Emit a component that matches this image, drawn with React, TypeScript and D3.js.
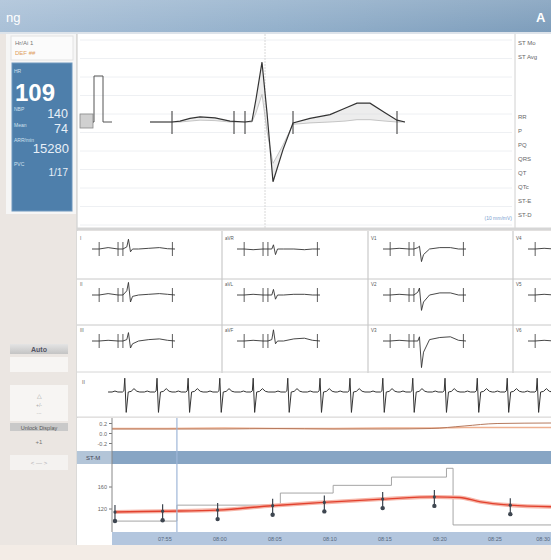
import React from 'react';
import * as d3 from 'd3';

// ---------- Average beat (main panel) ----------
const beatT = [-448, -360, -328, -288, -248, -188, -128, -68, -40, -24, 0, 20, 44, 84, 124, 192, 272, 332, 380, 432, 492, 540, 572];
const beatMv = [0, 0, 0.02, 0.08, 0.11, 0.09, 0.02, 0, 0.02, 0.5, 1.3, 0.2, -1.3, -0.6, -0.02, 0.08, 0.16, 0.3, 0.41, 0.41, 0.2, 0.04, 0];
const refMv = [0, 0, 0, 0.02, 0.04, 0.03, 0, 0, 0, 0.2, 0.6, -0.2, -0.9, -0.5, -0.05, -0.02, 0, 0.02, 0.05, 0.05, 0.02, 0, 0];
const beatMarkers = [-360, -112, -68, 124, 540];
const calibrationMv = [0, 0, 1, 1, 0, 0];
const calibrationMs = [-676, -672, -672, -636, -636, -600];

// ---------- 12 leads ----------
const leadT = [-448, -360, -250, -128, -68, -20, 0, 25, 50, 124, 250, 380, 480, 572];
const leadNames = ['I', 'II', 'III', 'aVR', 'aVL', 'aVF', 'V1', 'V2', 'V3', 'V4', 'V5', 'V6'];
const leadI = [0, 0, 0.1, 0, 0, 0.15, 0.7, -0.2, 0, 0, 0.05, 0.1, 0.02, 0];
const leadII = [0, 0, 0.1, 0, 0, 0.3, 0.9, -0.5, -0.1, 0, 0.05, 0.1, 0.05, 0];
const leadIII = [0, 0, 0.05, 0, 0, 0.1, 0.6, -0.5, -0.2, 0, 0.1, 0.15, 0.05, 0];
const leadAVR = [0, 0, -0.05, 0, 0, 0, 0.3, -0.4, 0, 0, 0, -0.05, 0, 0];
const leadAVL = [0, 0, 0.05, 0, 0, 0, 0.4, -0.3, 0, 0, 0.05, 0.05, 0, 0];
const leadAVF = [0, 0, 0.05, 0, 0, 0.1, 0.8, -0.2, 0, 0, 0.15, 0.2, 0.05, 0];
const leadV1 = [0, 0, 0.05, 0, 0, 0.1, 0.2, -0.9, -0.4, 0, 0.1, 0.1, 0, 0];
const leadV2 = [0, 0, 0.05, 0, 0, 0.2, 0.5, -1.1, -0.5, 0, 0.15, 0.15, 0, 0];
const leadV3 = [0, 0, 0.05, 0, 0, 0, 0.3, -1.9, -0.8, 0.1, 0.25, 0.3, 0.05, 0];
const leadV4 = [0, 0, 0.05, 0, 0, 0.1, 0.8, -0.6, -0.2, 0, 0.2, 0.25, 0.05, 0];
const leadV5 = [0, 0, 0.05, 0, 0, 0.1, 0.9, -0.4, -0.1, 0, 0.15, 0.2, 0.05, 0];
const leadV6 = [0, 0, 0.05, 0, 0, 0.1, 0.8, -0.3, 0, 0, 0.1, 0.15, 0.05, 0];
const leadMarkers = [-360, -128, -68, 540];

// ---------- rhythm strip ----------
const rPeaks = [0.43, 0.99, 1.53, 2.08, 2.66, 3.26, 3.82, 4.34, 4.91, 5.43, 5.99, 6.55, 7.07, 7.59];
const rhythmT = [-0.22, -0.17, -0.12, -0.04, -0.015, 0, 0.025, 0.06, 0.11, 0.16, 0.21, 0.26];
const rhythmMv = [0, 0.08, 0, 0, 0.1, 1.15, -1.7, 0, 0.05, 0.28, 0.06, 0];

// ---------- trends ----------
const stMin = [0, 5, 10, 15, 20, 25, 29, 32, 35, 39.9];
const stA = [0.1, 0.1, 0.11, 0.1, 0.1, 0.11, 0.11, 0.12, 0.12, 0.12];
const stB = [0.09, 0.09, 0.09, 0.1, 0.09, 0.09, 0.1, 0.15, 0.2, 0.21];
const stTicks = [0.2, 0, -0.2];
const stTickLabels = ['0.2', '0.0', '-0.2'];

const hrMin = [0.27, 4.5, 9.6, 14.5, 19.2, 24.6, 29.4, 31.6, 33.5, 36.2, 39.9];
const hrVal = [114.5, 116, 118, 126, 132, 138, 142, 141, 133, 127, 124];
const stepMin = [0.27, 5.9, 15.3, 20.1, 25.4, 30.4, 31.0, 39.9];
const stepVal = [98, 127, 149, 163, 178, 194, 91, 91];
const markerMin = [0.27, 4.6, 9.6, 14.6, 19.3, 24.6, 29.3, 36.2];
const markerHr = [114.5, 116, 118, 126, 132, 138, 142, 127];
const hrTicks = [160, 120];
const cursorMin = 5.9;

const rightLabelsTop = ['ST Mo', 'ST Avg'];
const rightLabels = ['RR', 'P', 'PQ', 'QRS', 'QT', 'QTc', 'ST-E', 'ST-D'];

const FONT = 'Liberation Sans, Arial, sans-serif';

export default function App() {
  // main beat scales
  const xMain = d3.scaleLinear().domain([-448, 572]).range([150, 405]);
  const yMain = d3.scaleLinear().domain([-1, 1]).range([168, 76]);
  const beatLine = d3.line<number>().x((_, i) => xMain(beatT[i])).y((d) => yMain(d));
  const beatArea = d3
    .area<number>()
    .x((_, i) => xMain(beatT[i]))
    .y0((_, i) => yMain(refMv[i]))
    .y1((d) => yMain(d));
  const calLine = d3.line<number>().x((_, i) => xMain(calibrationMs[i])).y((d) => yMain(d));

  // leads
  const leadSeries = [leadI, leadII, leadIII, leadAVR, leadAVL, leadAVF, leadV1, leadV2, leadV3, leadV4, leadV5, leadV6];
  const colX = [77, 222, 368, 513];
  const rowY = [233, 279, 325];
  const xLead = d3.scaleLinear().domain([-448, 572]).range([15, 98]);
  const yLead = d3.scaleLinear().domain([-1, 1]).range([16 + 14, 16 - 14]);
  const leadLine = d3.line<number>().x((_, i) => xLead(leadT[i])).y((d) => yLead(d));

  // rhythm
  const xRh = d3.scaleLinear().domain([0, 7.9]).range([100, 100 + 7.9 * 57.6]);
  const yRh = d3.scaleLinear().domain([-1, 1]).range([392 + 12, 392 - 12]);
  const rhPts: [number, number][] = [[0.14, 0]];
  rPeaks.forEach((r) => rhythmT.forEach((t, j) => rhPts.push([r + t, rhythmMv[j]])));
  rhPts.push([7.9, 0]);
  const rhLine = d3.line<[number, number]>().x((d) => xRh(d[0])).y((d) => yRh(d[1]));

  // trends
  const t0 = new Date(2020, 0, 1, 7, 50, 12);
  const tm = (m: number) => new Date(t0.getTime() + m * 60000);
  const xT = d3.scaleTime().domain([t0, tm(39.9)]).range([112, 551]);
  const yST = d3.scaleLinear().domain([-0.25, 0.25]).range([446, 421]);
  const yHR = d3.scaleLinear().domain([80, 200]).range([531, 465]);
  const stLineA = d3.line<number>().x((_, i) => xT(tm(stMin[i]))).y((d) => yST(d)).curve(d3.curveMonotoneX);
  const stLineB = d3.line<number>().x((_, i) => xT(tm(stMin[i]))).y((d) => yST(d)).curve(d3.curveMonotoneX);
  const hrLine = d3.line<number>().x((_, i) => xT(tm(hrMin[i]))).y((d) => yHR(d)).curve(d3.curveMonotoneX);
  const stepLine = d3.line<number>().x((_, i) => xT(tm(stepMin[i]))).y((d) => yHR(d)).curve(d3.curveStepAfter);
  const timeTicks = xT.ticks(d3.timeMinute.every(5) as any);
  const fmt = d3.timeFormat('%H:%M');
  const cursorX = xT(tm(cursorMin));

  const gridYs = d3.range(40, 226, 18.5);

  return (
    <svg width={551} height={560} style={{ position: 'absolute', left: 0, top: 0 }} fontFamily={FONT}>
      <defs>
        <linearGradient id="hdr" x1="0" x2="1" y1="0" y2="0">
          <stop offset="0" stopColor="#a9c0d7" />
          <stop offset="0.5" stopColor="#93b0cb" />
          <stop offset="1" stopColor="#7d9dbb" />
        </linearGradient>
        <linearGradient id="hdrv" x1="0" x2="0" y1="0" y2="1">
          <stop offset="0" stopColor="#ffffff" stopOpacity="0.15" />
          <stop offset="1" stopColor="#ffffff" stopOpacity="0" />
        </linearGradient>
        <linearGradient id="btn" x1="0" x2="0" y1="0" y2="1">
          <stop offset="0" stopColor="#e4e4e4" />
          <stop offset="1" stopColor="#c4c4c4" />
        </linearGradient>
      </defs>
      {/* page background */}
      <rect x={0} y={0} width={551} height={560} fill="#eeebe8" />
      {/* header */}
      <rect x={0} y={0} width={551} height={32} fill="url(#hdr)" />
      <rect x={0} y={0} width={551} height={32} fill="url(#hdrv)" />
      <text x={6} y={22} fill="#ffffff" fontSize={13}>ng</text>
      <text x={536} y={22} fill="#ffffff" fontSize={13} fontWeight="bold">A</text>
      <rect x={0} y={32} width={551} height={2} fill="#dde3ea" />

      {/* left column */}
      <rect x={0} y={34} width={76} height={511} fill="#ebe6e2" />
      <rect x={6} y={34} width={70} height={180} fill="#f6f6f6" />
      <rect x={11} y={36} width={62} height={24} fill="#fbfbfb" stroke="#e2e2e2" />
      <text x={15} y={45} fontSize={6} fill="#777">Hr/Ai 1</text>
      <text x={15} y={55} fontSize={6} fill="#e0a060">DEF ##</text>
      <rect x={12} y={63} width={60} height={148} fill="#4e7fab" />
      <rect x={12} y={63} width={60} height={148} fill="none" stroke="#6e98be" />
      <text x={14} y={73} fontSize={5} fill="#cfe0ef">HR</text>
      <text x={15} y={101} fontSize={24} fontWeight="bold" fill="#ffffff">109</text>
      <text x={14} y={111} fontSize={5} fill="#cfe0ef">NBP</text>
      <text x={68} y={118} fontSize={12.5} fill="#e8f0f8" textAnchor="end">140</text>
      <text x={14} y={127} fontSize={5} fill="#cfe0ef">Mean</text>
      <text x={68} y={133} fontSize={12.5} fill="#e8f0f8" textAnchor="end">74</text>
      <text x={14} y={142} fontSize={5} fill="#cfe0ef">ARR/min</text>
      <text x={69} y={153} fontSize={13} fill="#e8f0f8" textAnchor="end">15280</text>
      <text x={14} y={166} fontSize={5} fill="#cfe0ef">PVC</text>
      <text x={68} y={176} fontSize={10} fill="#e8f0f8" textAnchor="end">1/17</text>

      {/* left buttons */}
      <rect x={10} y={344} width={58} height={10} fill="url(#btn)" />
      <text x={39} y={352} fontSize={7} fontWeight="bold" fill="#556" textAnchor="middle">Auto</text>
      <rect x={10} y={357} width={58} height={15} fill="#f7f5f3" />
      <rect x={10} y={385} width={58} height={36} fill="#f7f5f3" />
      <text x={39} y={398} fontSize={6} fill="#9a9a9a" textAnchor="middle">△</text>
      <text x={39} y={407} fontSize={5} fill="#aaa" textAnchor="middle">+/-</text>
      <text x={39} y={415} fontSize={5} fill="#bbb" textAnchor="middle">---</text>
      <rect x={10} y={423} width={58} height={8} fill="#c9c9c9" />
      <text x={39} y={429.5} fontSize={5.5} fill="#555" textAnchor="middle">Unlock Display</text>
      <text x={39} y={444} fontSize={6} fill="#777" textAnchor="middle">+1</text>
      <rect x={10} y={455} width={58} height={15} fill="#f4f2f0" />
      <text x={39} y={465} fontSize={6} fill="#b0b0b0" textAnchor="middle">&lt;  —  &gt;</text>

      {/* main beat panel */}
      <rect x={77} y={34} width={474} height={195} fill="#ffffff" />
      {gridYs.map((y) => (
        <line key={y} x1={80} x2={512} y1={y} y2={y} stroke="#eef0f3" />
      ))}
      <line x1={77} x2={77} y1={34} y2={545} stroke="#c8c8c8" />
      <line x1={265} x2={265} y1={34} y2={228} stroke="#d8d8d8" strokeDasharray="2,1" />
      <line x1={515} x2={515} y1={34} y2={228} stroke="#d0d0d0" />
      <rect x={80} y={114} width={13} height={14} fill="#d0d0d0" stroke="#888" strokeWidth={0.8} />
      <path d={calLine(calibrationMv) || ''} fill="none" stroke="#555" strokeWidth={1} />
      <path d={beatArea(beatMv) || ''} fill="#d8d8d8" fillOpacity={0.45} />
      <path d={d3.line<number>().x((_, i) => xMain(beatT[i])).y((d) => yMain(d))(refMv) || ''} fill="none" stroke="#b8b8b8" strokeWidth={0.8} />
      <path d={beatLine(beatMv) || ''} fill="none" stroke="#333" strokeWidth={1.2} />
      {beatMarkers.map((t) => (
        <line key={t} x1={xMain(t)} x2={xMain(t)} y1={111} y2={134} stroke="#333" strokeWidth={1} />
      ))}
      <text x={512} y={220} fontSize={5} fill="#7aa0d0" textAnchor="end">(10 mm/mV)</text>
      {rightLabelsTop.map((s, i) => (
        <text key={s} x={518} y={45 + i * 14} fontSize={6} fill="#666">{s}</text>
      ))}
      {rightLabels.map((s, i) => (
        <text key={s} x={518} y={119 + i * 14} fontSize={6} fill="#666">{s}</text>
      ))}
      <line x1={77} x2={551} y1={229} y2={229} stroke="#d6d6d6" strokeWidth={3} />

      {/* 12-lead grid */}
      <rect x={77} y={231} width={474} height={142} fill="#ffffff" />
      {leadSeries.map((vals, k) => {
        const c = Math.floor(k / 3);
        const r = k % 3;
        const gx = colX[c];
        const gy = rowY[r];
        return (
          <g key={k} transform={`translate(${gx},${gy})`}>
            <text x={3} y={7} fontSize={4.5} fill="#555">{leadNames[k]}</text>
            <path d={leadLine(vals) || ''} fill="none" stroke="#333" strokeWidth={0.9} />
            {leadMarkers.map((t) => (
              <line key={t} x1={xLead(t)} x2={xLead(t)} y1={9} y2={23} stroke="#333" strokeWidth={0.8} />
            ))}
          </g>
        );
      })}
      {colX.slice(1).map((x) => (
        <line key={x} x1={x} x2={x} y1={231} y2={373} stroke="#bfbfbf" />
      ))}
      {[279, 325].map((y) => (
        <line key={y} x1={77} x2={551} y1={y} y2={y} stroke="#c8c8c8" />
      ))}
      <line x1={77} x2={551} y1={372} y2={372} stroke="#d6d6d6" />

      {/* rhythm strip */}
      <rect x={77} y={373} width={474} height={44} fill="#ffffff" />
      <text x={82} y={384} fontSize={5} fill="#555">II</text>
      <path d={rhLine(rhPts) || ''} fill="none" stroke="#333" strokeWidth={1} />
      <line x1={77} x2={551} y1={417} y2={417} stroke="#d8d8d8" />

      {/* ST trend */}
      <rect x={77} y={418} width={474} height={33} fill="#ffffff" />
      <path d={stLineA(stA) || ''} fill="none" stroke="#eeb090" strokeWidth={1.6} />
      <path d={stLineB(stB) || ''} fill="none" stroke="#b67a5e" strokeWidth={1} />
      {stTicks.map((v, i) => (
        <g key={v}>
          <line x1={109} x2={112} y1={yST(v)} y2={yST(v)} stroke="#777" />
          <text x={107} y={yST(v) + 2} fontSize={5.5} fill="#666" textAnchor="end">{stTickLabels[i]}</text>
        </g>
      ))}
      {/* ST label bar */}
      <rect x={77} y={451} width={474} height={13} fill="#b3c5d8" />
      <rect x={112} y={451} width={439} height={13} fill="#87a5c4" />
      <text x={86} y={460} fontSize={6} fill="#445" >ST-M</text>

      {/* HR trend */}
      <rect x={77} y={464} width={474} height={68} fill="#ffffff" />
      <path d={stepLine(stepVal) || ''} fill="none" stroke="#9c9c9c" strokeWidth={0.9} />
      <path d={hrLine(hrVal) || ''} fill="none" stroke="#f6b5a8" strokeWidth={4} />
      <path d={hrLine(hrVal) || ''} fill="none" stroke="#e2412e" strokeWidth={1.4} />
      {markerMin.map((m, i) => {
        const x = xT(tm(m));
        const y = yHR(markerHr[i]);
        return (
          <g key={m}>
            <line x1={x} x2={x} y1={y - 7} y2={y + 9} stroke="#3e4650" strokeWidth={1.2} />
            <circle cx={x} cy={y} r={1.6} fill="#3e4650" />
            <circle cx={x} cy={y + 9} r={2.2} fill="#3e4650" />
          </g>
        );
      })}
      {hrTicks.map((v) => (
        <g key={v}>
          <line x1={109} x2={112} y1={yHR(v)} y2={yHR(v)} stroke="#777" />
          <text x={107} y={yHR(v) + 2} fontSize={5.5} fill="#666" textAnchor="end">{v}</text>
        </g>
      ))}
      {/* cursor */}
      <line x1={cursorX} x2={cursorX} y1={418} y2={532} stroke="#9fb6d8" strokeWidth={1.2} />
      {/* axis */}
      <line x1={112} x2={112} y1={418} y2={545} stroke="#888" />
      <rect x={112} y={532} width={439} height={13} fill="#b3c6de" />
      <rect x={77} y={532} width={35} height={13} fill="#ffffff" />
      {timeTicks.map((d) => {
        const x = xT(d);
        const nearEdge = x > 538;
        return (
          <text key={+d} x={nearEdge ? 550 : x} y={541} fontSize={5.5} fill="#56677d" textAnchor={nearEdge ? 'end' : 'middle'}>{fmt(d)}</text>
        );
      })}
      {/* footer */}
      <rect x={0} y={545} width={551} height={15} fill="#f3ece6" />
    </svg>
  );
}
